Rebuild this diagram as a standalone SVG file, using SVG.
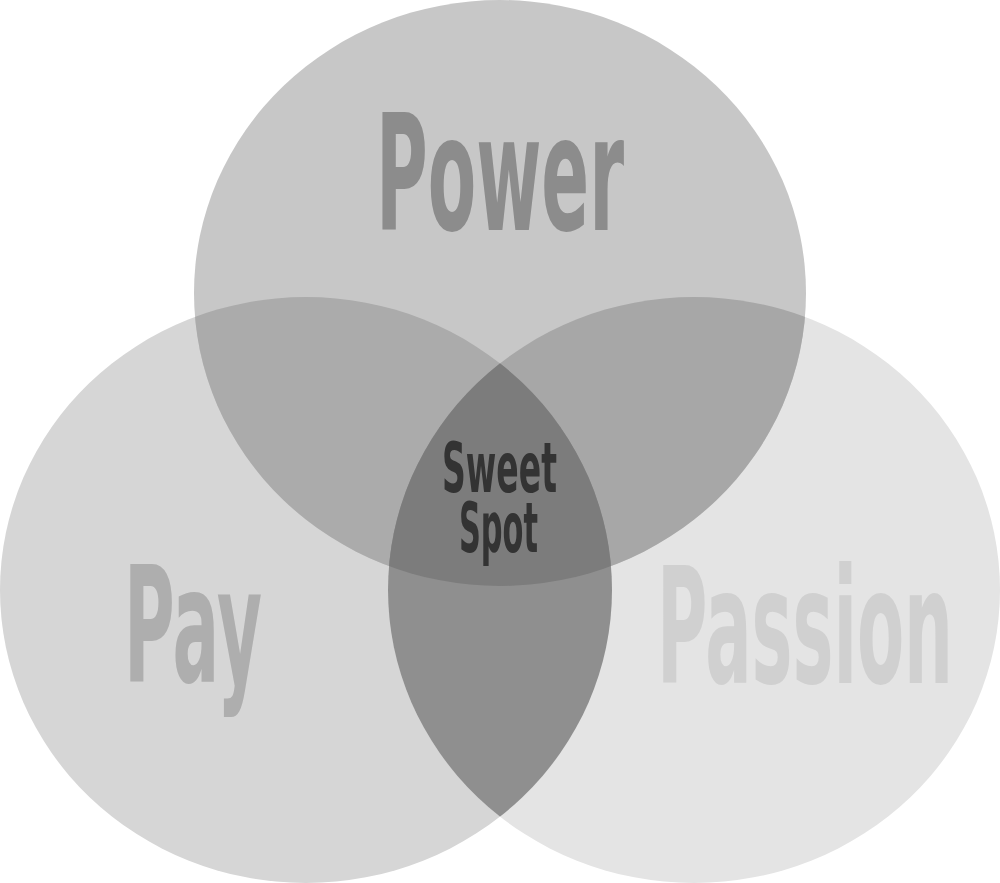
<svg xmlns="http://www.w3.org/2000/svg" width="1000" height="883" viewBox="0 0 1000 883">
<style>
.lbl{font-family:"Liberation Sans Narrow","DejaVu Sans Condensed","Liberation Sans",Arial,sans-serif;font-weight:bold;text-anchor:middle}
</style>
<defs>
<ellipse id="eT" cx="500" cy="293" rx="306" ry="293"/>
<ellipse id="eL" cx="306" cy="590" rx="306" ry="293"/>
<ellipse id="eR" cx="694" cy="590" rx="306" ry="293"/>
<clipPath id="cT"><use href="#eT"/></clipPath>
<clipPath id="cL"><use href="#eL"/></clipPath>
<clipPath id="cR"><use href="#eR"/></clipPath>
</defs>
<rect width="1000" height="883" fill="#ffffff"/>
<g id="pay"><use href="#eL" fill="#d6d6d6"/></g>
<g id="passion"><use href="#eR" fill="#e4e4e4"/></g>
<g id="power"><use href="#eT" fill="#c7c7c7"/></g>
<g id="overlaps">
<g clip-path="url(#cT)"><use href="#eL" fill="#ababab"/></g>
<g clip-path="url(#cT)"><use href="#eR" fill="#a7a7a7"/></g>
<g clip-path="url(#cL)"><use href="#eR" fill="#8f8f8f"/></g>
<g id="sweet-spot" clip-path="url(#cT)"><g clip-path="url(#cL)"><use href="#eR" fill="#7c7c7c"/></g></g>
</g>
<g id="labels">
<text class="lbl" x="500" y="230" font-size="160" textLength="248" lengthAdjust="spacingAndGlyphs" fill="#8c8c8c">Power</text>
<text class="lbl" x="193" y="682" font-size="160" textLength="138" lengthAdjust="spacingAndGlyphs" fill="#aeaeae">Pay</text>
<text class="lbl" x="805" y="683" font-size="160" textLength="296" lengthAdjust="spacingAndGlyphs" fill="#d0d0d0">Passion</text>
<text class="lbl" x="499.5" y="492" font-size="70" textLength="115" lengthAdjust="spacingAndGlyphs" fill="#333333">Sweet</text>
<text class="lbl" x="498.5" y="552" font-size="70" textLength="79" lengthAdjust="spacingAndGlyphs" fill="#333333">Spot</text>
</g>
</svg>
